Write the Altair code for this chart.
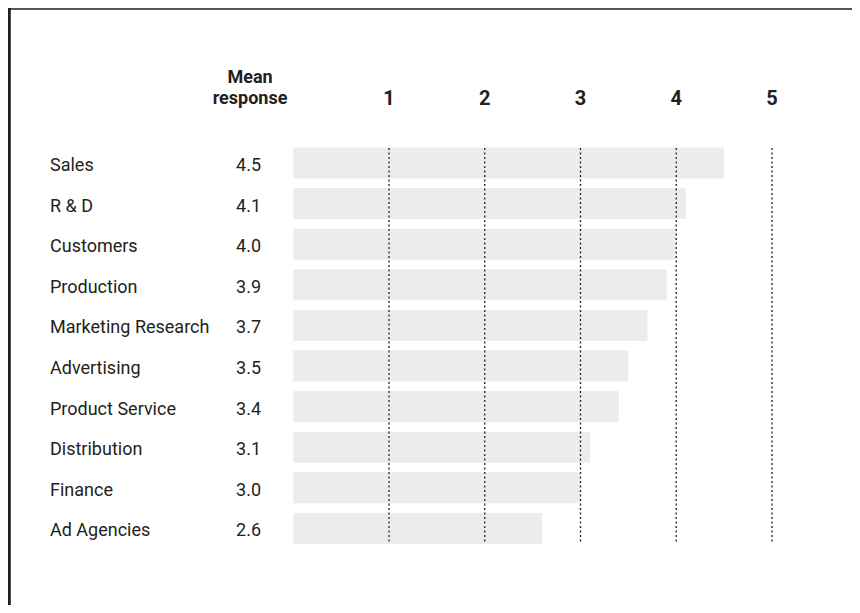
import altair as alt
import pandas as pd

categories = ["Sales", "R & D", "Customers", "Production", "Marketing Research",
              "Advertising", "Product Service", "Distribution", "Finance", "Ad Agencies"]
mean_response = [4.5, 4.1, 4.0, 3.9, 3.7, 3.5, 3.4, 3.1, 3.0, 2.6]
ticks = [1, 2, 3, 4, 5]

FONT = "Roboto, sans-serif"
INK = "#231f20"

df = pd.DataFrame({"cat": categories, "val": mean_response})
tdf = pd.DataFrame({"tick": ticks})

xs = alt.Scale(domain=[0, 5], range=[285.25, 764])
ys = alt.Scale(domain=categories, range=[134.7, 540.7], paddingInner=0.236, paddingOuter=0.118)

bars = alt.Chart(df).mark_bar(color="#ececec").encode(
    x=alt.X("val:Q", scale=xs, axis=None),
    y=alt.Y("cat:N", scale=ys, axis=None, sort=categories),
)

rules = alt.Chart(tdf).mark_rule(color=INK, strokeDash=[2, 2.5], strokeWidth=1.3).encode(
    x=alt.X("tick:Q", scale=xs, axis=None),
    y=alt.value(140),
    y2=alt.value(536),
)

tick_text = alt.Chart(tdf).mark_text(font=FONT, fontSize=20, fontWeight="bold",
                                     color=INK, baseline="alphabetic", align="center").encode(
    x=alt.X("tick:Q", scale=xs, axis=None),
    y=alt.value(97),
    text=alt.Text("tick:Q"),
)

labels = alt.Chart(df).mark_text(font=FONT, fontSize=18, color=INK, align="left",
                                 baseline="middle", dy=3).encode(
    x=alt.value(42),
    y=alt.Y("cat:N", scale=ys, axis=None, sort=categories),
    text="cat:N",
)

values = alt.Chart(df).mark_text(font=FONT, fontSize=18, color=INK, align="right",
                                 baseline="middle", dy=3).encode(
    x=alt.value(253),
    y=alt.Y("cat:N", scale=ys, axis=None, sort=categories),
    text=alt.Text("val:Q", format=".1f"),
)

head_df = pd.DataFrame({"t": ["Mean", "response"], "yy": [75, 96]})
header = alt.Chart(head_df).mark_text(font=FONT, fontSize=18, fontWeight="bold", color=INK,
                                      align="center", baseline="alphabetic").encode(
    x=alt.value(242),
    y=alt.Y("yy:Q", scale=alt.Scale(domain=[0, 597], range=[0, 597]), axis=None),
    text="t:N",
)

frame_top = alt.Chart(tdf).mark_rule(color="#555555", strokeWidth=2).encode(
    x=alt.value(0), x2=alt.value(844), y=alt.value(1))
frame_left = alt.Chart(tdf).mark_rule(color=INK, strokeWidth=2.5).encode(
    x=alt.value(1), y=alt.value(0), y2=alt.value(597))

chart = alt.layer(bars, rules, tick_text, labels, values, header, frame_top, frame_left).properties(
    width=844, height=597, padding=0,
    autosize=alt.AutoSizeParams(type="none"),
).configure_view(stroke=None).resolve_scale(y="independent")

chart.save("out.html", embed_options={"renderer": "svg", "actions": False})
